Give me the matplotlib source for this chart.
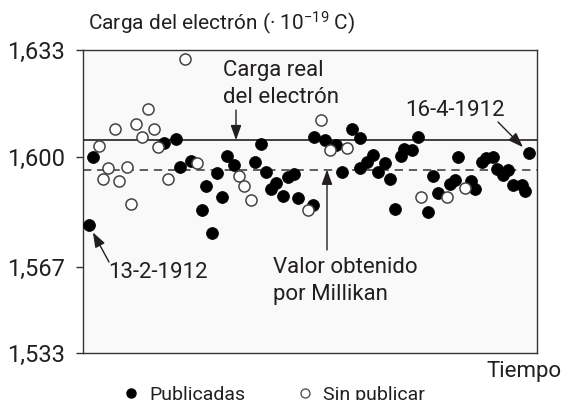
import matplotlib
matplotlib.use("Agg")
import matplotlib.pyplot as plt
import numpy as np
from matplotlib.lines import Line2D

plt.rcParams["font.family"] = ["Roboto", "DejaVu Sans"]
plt.rcParams["mathtext.fontset"] = "custom"
plt.rcParams["mathtext.rm"] = "Roboto"
plt.rcParams["mathtext.it"] = "Roboto:italic"
plt.rcParams["mathtext.bf"] = "Roboto:bold"

# published measurements (time in arbitrary units 0-100, charge in 1e-19 C)
pub_t = [1.3, 2.2, 17.8, 20.5, 21.4, 23.8, 26.2, 27.1, 28.4, 29.5,
         30.6, 31.7, 33.3, 37.9, 39.2, 40.3, 41.4, 42.5, 44.1, 45.2,
         46.5, 47.4, 50.7, 50.9, 53.3, 55.7, 57.0, 59.3, 61.0, 61.0,
         62.6, 63.9, 65.0, 66.5, 67.6, 68.7, 70.0, 70.7, 72.5, 73.8,
         76.0, 77.1, 78.2, 80.8, 81.9, 82.6, 85.5, 86.3, 87.9, 88.8,
         90.3, 91.2, 92.5, 93.6, 94.7, 96.7, 97.4, 98.2]
pub_q = [1.5796, 1.6000, 1.6043, 1.6055, 1.5970, 1.5988, 1.5841, 1.5913, 1.5772, 1.5952,
         1.5880, 1.6003, 1.5976, 1.5985, 1.6040, 1.5955, 1.5904, 1.5922, 1.5883, 1.5940,
         1.5949, 1.5877, 1.5856, 1.6062, 1.6052, 1.6037, 1.5955, 1.6086, 1.6059, 1.5967,
         1.5985, 1.6006, 1.5955, 1.5982, 1.5934, 1.5844, 1.6003, 1.6025, 1.6022, 1.6062,
         1.5835, 1.5943, 1.5892, 1.5919, 1.5931, 1.6000, 1.5928, 1.5904, 1.5985, 1.5997,
         1.6000, 1.5964, 1.5946, 1.5961, 1.5916, 1.5916, 1.5898, 1.6012]

# unpublished measurements
unpub_t = [3.5, 4.4, 5.5, 7.0, 7.9, 9.7, 10.6, 11.7, 13.0, 14.3,
           15.6, 16.5, 18.7, 22.5, 25.1, 34.4, 35.5, 37.0, 49.6, 52.4,
           54.4, 58.1, 74.4, 80.2, 84.1]
unpub_q = [1.6034, 1.5934, 1.5967, 1.6086, 1.5928, 1.5970, 1.5859, 1.6102, 1.6062, 1.6148,
           1.6086, 1.6031, 1.5934, 1.6302, 1.5982, 1.5943, 1.5913, 1.5871, 1.5841, 1.6114,
           1.6022, 1.6028, 1.5880, 1.5880, 1.5907]

q_real = 1.6052
q_millikan = 1.5962

y_ticks = [1.533, 1.567, 1.600, 1.633]
y_tick_labels = ["1,533", "1,567", "1,600", "1,633"]

# the printed axis is not evenly spaced between its labels, so use a piecewise-linear scale
scale_vals = np.array([1.533, 1.567, 1.600, 1.633])
scale_pos = np.array([0.0, 86.0, 196.0, 303.0])
lo_slope = (scale_pos[1] - scale_pos[0]) / (scale_vals[1] - scale_vals[0])
hi_slope = (scale_pos[-1] - scale_pos[-2]) / (scale_vals[-1] - scale_vals[-2])
knot_vals = np.concatenate([[scale_vals[0] - 1.0], scale_vals, [scale_vals[-1] + 1.0]])
knot_pos = np.concatenate([[scale_pos[0] - lo_slope], scale_pos, [scale_pos[-1] + hi_slope]])


def forward(v):
    return np.interp(v, knot_vals, knot_pos)


def inverse(p):
    return np.interp(p, knot_pos, knot_vals)


ink = "#231f20"

fig = plt.figure(figsize=(5.63, 4.0), dpi=100)
ax = fig.add_axes([83 / 563, 47 / 400, 454 / 563, 303 / 400])
ax.set_facecolor("#f9f9f9")
ax.set_yscale("function", functions=(forward, inverse))
ax.set_xlim(0, 100)
ax.set_ylim(1.533, 1.633)

ax.axhline(q_real, color=ink, lw=1.2, zorder=1)
ax.axhline(q_millikan, color="#444444", lw=1.2, ls=(0, (5, 3.5)), zorder=1)

ax.plot(pub_t, pub_q, ls="none", marker="o", markersize=8.6,
        markerfacecolor="black", markeredgecolor="black", markeredgewidth=0.5, zorder=3)
ax.plot(unpub_t, unpub_q, ls="none", marker="o", markersize=8.0,
        markerfacecolor="white", markeredgecolor="#444444", markeredgewidth=1.1, zorder=4)

ax.set_yticks(y_ticks)
ax.set_yticklabels(y_tick_labels)
ax.set_xticks([])
ax.tick_params(axis="y", length=5, width=1, color="#333333", labelsize=17,
               labelcolor=ink, pad=8)
for spine in ax.spines.values():
    spine.set_color("#333333")
    spine.set_linewidth(1.0)

fig.text(88 / 563, 1 - 23 / 400, r"Carga del electrón (· 10$^{-19}$ C)",
         fontsize=15, color=ink, ha="left", va="center")

arrow = dict(arrowstyle="-|>,head_length=0.5,head_width=0.18", color=ink,
             lw=1.0, mutation_scale=18, shrinkA=0, shrinkB=0)

ax.text(223, 400 - 60, "Carga real\ndel electrón", transform=None,
        fontsize=16, color=ink, ha="left", va="top", linespacing=1.4)
ax.annotate("", xy=((236 - 83) / 4.54, q_real), xytext=(236, 400 - 110),
            textcoords="figure pixels", arrowprops=arrow)

ax.text(273, 400 - 257, "Valor obtenido\npor Millikan", transform=None,
        fontsize=16, color=ink, ha="left", va="top", linespacing=1.4)
ax.annotate("", xy=((327 - 83) / 4.54, q_millikan), xytext=(327, 400 - 250),
            textcoords="figure pixels", arrowprops=arrow)

ax.text(405, 400 - 111, "16-4-1912", transform=None,
        fontsize=16, color=ink, ha="left", va="center")
ax.annotate("", xy=(pub_t[-1], pub_q[-1]), xytext=(498, 400 - 122),
            textcoords="figure pixels",
            arrowprops=dict(arrow, shrinkB=6))

ax.text(108, 400 - 272, "13-2-1912", transform=None,
        fontsize=16, color=ink, ha="left", va="center")
ax.annotate("", xy=(pub_t[0], pub_q[0]), xytext=(109, 400 - 262),
            textcoords="figure pixels",
            arrowprops=dict(arrow, shrinkB=6))

fig.text(562 / 563, 1 - 372 / 400, "Tiempo", fontsize=16, color=ink,
         ha="right", va="center")

handles = [
    Line2D([], [], ls="none", marker="o", markersize=6.5, markerfacecolor="black",
           markeredgecolor="black"),
    Line2D([], [], ls="none", marker="o", markersize=6.5, markerfacecolor="white",
           markeredgecolor="#444444", markeredgewidth=0.9),
]
fig.legend(handles, ["Publicadas", "Sin publicar"], loc="center left",
           bbox_to_anchor=(112 / 563, 1 - 395 / 400), ncol=2, frameon=False,
           fontsize=14, handlelength=1.0, handletextpad=0.4, columnspacing=2.6,
           borderpad=0, labelcolor=ink)

fig.savefig("out.png", dpi=100)
